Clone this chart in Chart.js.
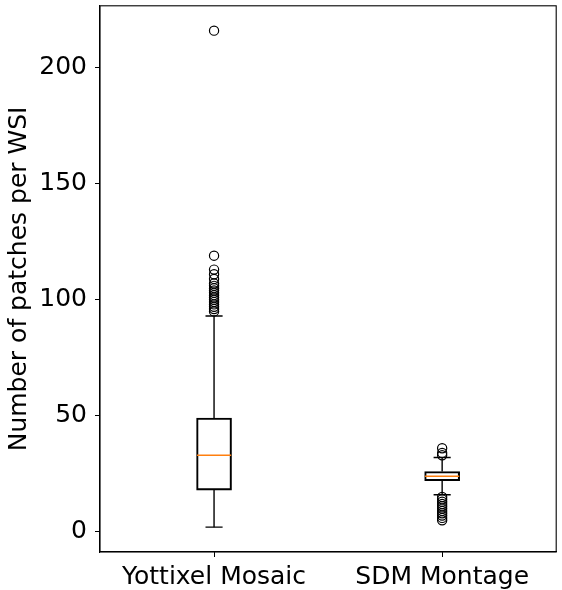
<!DOCTYPE html>
<html>
<head>
<meta charset="utf-8">
<script src="https://cdn.jsdelivr.net/npm/chart.js"></script>
<style>
  body { margin: 0; background: #fff; }
  #wrap { width: 562px; height: 590px; }
</style>
</head>
<body>
<div id="wrap"><canvas id="boxChart"></canvas></div>
<script>
// Data ------------------------------------------------------------------------
const categories = ['Yottixel Mosaic', 'SDM Montage'];
const positions = [1, 2];
const q1 = [18, 22];
const q3 = [49, 26];
const medians = [33, 24];
const whiskerLow = [2, 16];
const whiskerHigh = [93, 32];
const outliersYottixel = [216, 119, 113, 111, 109, 107, 106, 105, 104, 103, 102, 101, 100, 99, 98, 97, 96, 95];
const outliersSdm = [36, 34, 33, 15, 14, 13, 12, 11, 10, 9, 8, 7, 6, 5];
const yTicks = [0, 50, 100, 150, 200];

// Build datasets --------------------------------------------------------------
const boxHalf = 0.075;
const capHalf = 0.0375;

function segment(x0, x1, y0, y1, color, width) {
  return {
    type: 'line',
    data: [{ x: x0, y: y0 }, { x: x1, y: y1 }],
    borderColor: color,
    borderWidth: width,
    pointRadius: 0,
    fill: false
  };
}

let datasets = [];

// medians
for (let i = 0; i < positions.length; i++) {
  datasets.push(segment(positions[i] - boxHalf, positions[i] + boxHalf, medians[i], medians[i], '#ff7f0e', 1.5));
}

// whiskers and caps
for (let i = 0; i < positions.length; i++) {
  let p = positions[i];
  datasets.push(segment(p, p, whiskerLow[i], q1[i], '#000', 1.4));
  datasets.push(segment(p, p, q3[i], whiskerHigh[i], '#000', 1.4));
  datasets.push(segment(p - capHalf, p + capHalf, whiskerLow[i], whiskerLow[i], '#000', 1.4));
  datasets.push(segment(p - capHalf, p + capHalf, whiskerHigh[i], whiskerHigh[i], '#000', 1.4));
}

// outliers
const outlierSets = [outliersYottixel, outliersSdm];
for (let i = 0; i < outlierSets.length; i++) {
  datasets.push({
    type: 'scatter',
    data: outlierSets[i].map(v => ({ x: positions[i], y: v })),
    pointStyle: 'circle',
    pointRadius: 4.6,
    pointBorderWidth: 1.2,
    pointBorderColor: '#000',
    pointBackgroundColor: 'rgba(0,0,0,0)'
  });
}

// boxes
datasets.push({
  type: 'bar',
  data: positions.map((p, i) => ({ x: p, y: [q1[i], q3[i]] })),
  backgroundColor: 'rgba(0,0,0,0)',
  borderColor: '#000',
  borderWidth: 1.4,
  borderSkipped: false,
  barThickness: 35
});

// Frame plugin ----------------------------------------------------------------
const framePlugin = {
  id: 'frame',
  afterDraw(chart) {
    const a = chart.chartArea;
    const ctx = chart.ctx;
    ctx.save();
    ctx.strokeStyle = '#000';
    ctx.lineWidth = 1.1;
    ctx.strokeRect(a.left, a.top, a.right - a.left, a.bottom - a.top);
    ctx.restore();
  }
};

// Render ----------------------------------------------------------------------
const font = { family: 'DejaVu Sans', size: 25 };

new Chart(document.getElementById('boxChart'), {
  type: 'bar',
  data: { datasets: datasets },
  plugins: [framePlugin],
  options: {
    responsive: true,
    maintainAspectRatio: false,
    animation: false,
    layout: { padding: { left: 0, right: 2, top: 3, bottom: 0 } },
    plugins: {
      legend: { display: false },
      tooltip: { enabled: false }
    },
    scales: {
      x: {
        type: 'linear',
        min: 0.5,
        max: 2.5,
        offset: false,
        afterBuildTicks: (scale) => { scale.ticks = positions.map(v => ({ value: v })); },
        afterFit: (scale) => {
          scale.height = 38;
          scale.paddingLeft = 0;
          scale.paddingRight = 0;
        },
        ticks: {
          color: '#000',
          font: font,
          padding: 5,
          callback: (value) => categories[positions.indexOf(value)]
        },
        grid: { display: true, drawOnChartArea: false, drawTicks: true, tickLength: 5, color: '#000', offset: false },
        border: { display: true, color: '#000', width: 1.1 }
      },
      y: {
        type: 'linear',
        min: -8.7,
        max: 226.7,
        afterBuildTicks: (scale) => { scale.ticks = yTicks.map(v => ({ value: v })); },
        afterFit: (scale) => {
          scale.width = 100;
          scale.paddingTop = 0;
          scale.paddingBottom = 0;
        },
        ticks: { color: '#000', font: font, padding: 8 },
        grid: { display: true, drawOnChartArea: false, drawTicks: true, tickLength: 5, color: '#000' },
        border: { display: true, color: '#000', width: 1.1 },
        title: {
          display: true,
          text: 'Number of patches per WSI',
          color: '#000',
          font: font,
          padding: { top: 4, bottom: 0 }
        }
      }
    }
  }
});
</script>
</body>
</html>
